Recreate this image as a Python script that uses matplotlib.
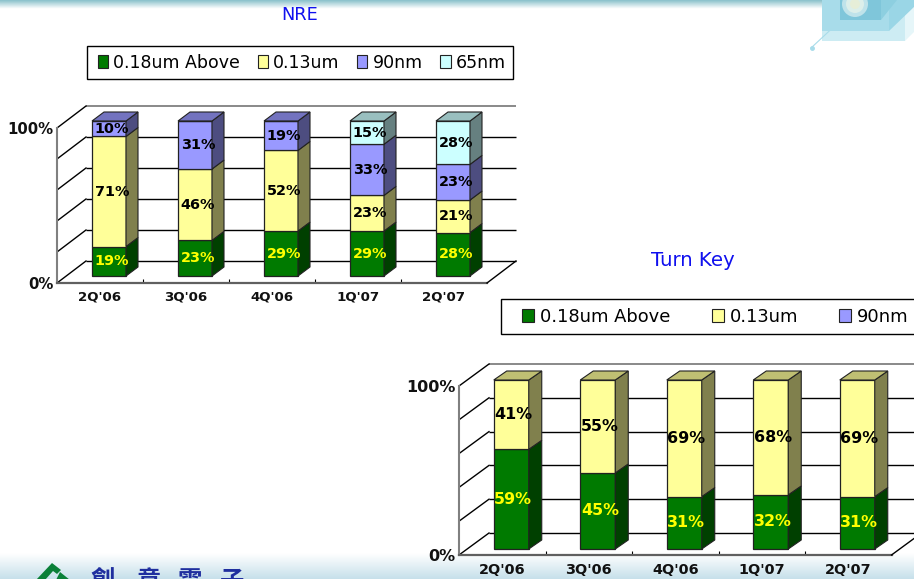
import numpy as np
import matplotlib
matplotlib.use("Agg")
import matplotlib.pyplot as plt
from matplotlib.patches import Polygon, Rectangle, Patch

W, H = 914, 579

categories = ["2Q'06", "3Q'06", "4Q'06", "1Q'07", "2Q'07"]
nre_above = [19, 23, 29, 29, 28]
nre_013 = [71, 46, 52, 23, 21]
nre_90 = [10, 31, 19, 33, 23]
nre_65 = [0, 0, 0, 15, 28]
tk_above = [59, 45, 31, 32, 31]
tk_013 = [41, 55, 69, 68, 69]

name_above, name_013, name_90, name_65 = "0.18um Above", "0.13um", "90nm", "65nm"
FRONT = {"above": "#007a00", "013": "#ffff99", "90": "#9999ff", "65": "#ccffff"}
SIDE = {"above": "#004000", "013": "#80804d", "90": "#4d4d80", "65": "#668080"}
TOP = {"above": "#005c00", "013": "#bfbf73", "90": "#7373bf", "65": "#99bfbf"}
TEXTC = {"above": "#ffff00", "013": "black", "90": "black", "65": "black"}


def axes_px(fig, x0, x1, ytop, ybot):
    return fig.add_axes([x0 / W, 1 - ybot / H, (x1 - x0) / W, (ybot - ytop) / H])


fig = plt.figure(figsize=(W / 100, H / 100), dpi=100, facecolor="white")

# page background
bg = fig.add_axes([0, 0, 1, 1], zorder=0)
bg.axis("off")
top_band = np.linspace(0, 1, 12)[:, None]
top_cols = np.array([0.55, 0.76, 0.80])[None, None, :] * (1 - top_band[..., None]) + top_band[..., None]
bg.imshow(top_cols, extent=(0, 828, 9, 0), aspect="auto", zorder=1)
bot_band = np.linspace(0, 1, 30)[:, None]
bot_cols = 1 - (1 - np.array([0.78, 0.88, 0.92])[None, None, :]) * bot_band[..., None]
bg.imshow(bot_cols, extent=(0, W, H, 553), aspect="auto", zorder=1)
bg.set_xlim(0, W)
bg.set_ylim(H, 0)

# corner cube decoration
bg.add_patch(Polygon([[822, 0], [905, 0], [905, 41], [822, 41]], fc="#cdecf3", ec="none", zorder=2))
bg.add_patch(Polygon([[905, 41], [914, 32], [914, 7], [905, 14]], fc="#e6f6f9", ec="none", zorder=2))
bg.add_patch(Polygon([[822, 0], [889, 0], [889, 31], [822, 31]], fc="#a8dcea", ec="none", zorder=3))
bg.add_patch(Polygon([[889, 31], [914, 7], [914, 0], [889, 0]], fc="#9ad6e6", ec="none", zorder=4))
bg.add_patch(Polygon([[881, 20], [897, 0], [881, 0]], fc="#8dcfe0", ec="none", zorder=4))
bg.add_patch(Polygon([[840, 0], [881, 0], [881, 20], [840, 20]], fc="#7fc6da", ec="none", zorder=4))
for r, c in zip([13, 9, 5], ["#bfe3ea", "#dcefea", "#e6eed8"]):
    bg.add_patch(plt.Circle((855, 4), r, fc=c, ec="none", zorder=5))
bg.plot([811, 840], [48, 21], color="#a8dcea", lw=0.8, zorder=3)
bg.plot([812], [48], "o", color="#a8dcea", ms=2.5, zorder=3)

# company logo, cut by the page edge as in the reference
bg.add_patch(Polygon([[52, 563], [36, 580], [45, 580], [53, 571], [57, 574], [61, 570]], fc="#0a8038", ec="none", zorder=3))
bg.add_patch(Polygon([[60, 572], [70, 580], [56, 580]], fc="#0a8038", ec="none", zorder=3))
for ch, xc in zip("創意電子", [103, 148, 190, 232]):
    bg.text(xc, 569, ch, family="Noto Sans CJK TC", fontsize=17.5, fontweight="bold",
            color="#1f2f9f", ha="center", va="top", zorder=4)

fig.text(300 / W, 1 - 15 / H, "NRE", color="#1010ee", fontsize=12.8, ha="center", va="center", zorder=5)
fig.text(692.5 / W, 1 - 261 / H, "Turn Key", color="#1010ee", fontsize=14.2, ha="center", va="center", zorder=5)


def chart(x0, step, ytop, ybot, depth, bar_plane, bar_width_px, side, series, lab_fs, tick_fs, lab_dx):
    """x0/step: front axis; ytop/ybot: 100%/0% on front wall; depth: wall depth (px);
    bar_plane: (dx, dy) shift of bars' front; side: bar depth (px)."""
    x1 = x0 + 5 * step
    ax = axes_px(fig, x0, x1, ytop, ybot)
    ax.set_zorder(2)
    ax.patch.set_alpha(0)
    ax.set_xlim(0, 5)
    ax.set_ylim(0, 100)
    for s in ax.spines.values():
        s.set_visible(False)
    kx, ky = 1 / step, 100 / (ybot - ytop)
    dx, dy = depth[0] * kx, depth[1] * ky
    levels = [0, 20, 40, 60, 80, 100]
    for v in levels:
        col = "#808080" if v == 100 else "black"
        ax.plot([dx, 5 + dx], [v + dy, v + dy], color=col, lw=1.3 if v == 100 else 1.0, clip_on=False, solid_capstyle="butt")
        ax.plot([0, dx], [v, v + dy], color="black", lw=1.0, clip_on=False)
    ax.plot([0, 0], [0, 100], color="#808080", lw=1.5, clip_on=False)
    ax.plot([0, 5], [0, 0], color="#606060", lw=1.6, clip_on=False)
    ax.plot([5, 5 + dx], [0, dy], color="black", lw=1.0, clip_on=False)
    ax.set_yticks([0, 100], ["0%", "100%"], fontweight="bold", fontsize=tick_fs + 1.1, color="#111111")
    ax.tick_params(axis="y", length=0, pad=2.5)
    ax.set_xticks(np.arange(5) + 0.5, categories, fontweight="bold", fontsize=tick_fs, color="#111111")
    ax.tick_params(axis="x", which="major", length=0, pad=5.5)
    ax.set_xticks(np.arange(1, 5), minor=True)
    ax.tick_params(axis="x", which="minor", length=3, direction="in", width=0.8)

    # bar plane
    bx = axes_px(fig, x0 + bar_plane[0], x1 + bar_plane[0], ytop - bar_plane[1], ybot - bar_plane[1])
    bx.set_zorder(3)
    bx.patch.set_alpha(0)
    bx.axis("off")
    bx.set_xlim(0, 5)
    bx.set_ylim(0, 100)
    w = bar_width_px * kx
    sx, sy = side[0] * kx, side[1] * 100 / (ybot - ytop)
    xs = np.arange(5) + 0.5
    bottoms = np.zeros(5)
    for key, vals in series:
        vals = np.array(vals, float)
        bx.bar(xs, vals, w, bottom=bottoms, color=FRONT[key], edgecolor="#222222", linewidth=0.9, zorder=3, clip_on=False)
        for x, b, v in zip(xs, bottoms, vals):
            if v == 0:
                continue
            r = x + w / 2
            bx.add_patch(Polygon([[r, b], [r + sx, b + sy], [r + sx, b + v + sy], [r, b + v]],
                                 fc=SIDE[key], ec="#222222", lw=0.8, zorder=3, clip_on=False))
            if abs(b + v - 100) < 0.01:
                l = x - w / 2
                bx.add_patch(Polygon([[l, 100], [l + sx, 100 + sy], [r + sx, 100 + sy], [r, 100]],
                                     fc=TOP[key], ec="#222222", lw=0.8, zorder=3, clip_on=False))
        bottoms = bottoms + vals
    bottoms = np.zeros(5)
    for key, vals in series:
        vals = np.array(vals, float)
        for x, b, v in zip(xs, bottoms, vals):
            if v:
                bx.text(x + lab_dx * kx, b + v / 2, f"{v:.0f}%", color=TEXTC[key], fontweight="bold",
                        fontsize=lab_fs, ha="center", va="center", zorder=6, clip_on=False)
        bottoms = bottoms + vals
    return ax


chart(57, 86, 128, 283, (29, 22), (9, 7), 34, (12, 9),
      [("above", nre_above), ("013", nre_013), ("90", nre_90), ("65", nre_65)], 10.4, 9.6, 3)
chart(459, 86.5, 386, 555, (30, 22), (9, 6), 35, (13, 9),
      [("above", tk_above), ("013", tk_013)], 11.4, 10.4, 2)


def legend(names, keys, box, first_x, fs, colspace, hl, tp):
    bg.add_patch(Rectangle((box[0], box[1]), box[2] - box[0], box[3] - box[1], fc="white", ec="black", lw=1.0, zorder=6))
    handles = [Patch(fc=FRONT[k], ec="#222222", lw=0.8) for k in keys]
    ycen = (box[1] + box[3]) / 2
    lg = fig.legend(handles, names, loc="center left", bbox_to_anchor=(first_x / W, 1 - ycen / H), ncol=len(names),
                    fontsize=fs, frameon=False, handlelength=hl, handleheight=0.7, handletextpad=tp,
                    columnspacing=colspace, borderpad=0, borderaxespad=0)
    lg.set_zorder(6)
    return lg


legend([name_above, name_013, name_90, name_65], ["above", "013", "90", "65"], (87, 46, 513, 79), 98, 12.5, 1.03, 0.58, 0.29)
legend([name_above, name_013, name_90], ["above", "013", "90"], (501, 299, 925, 334), 522, 12.9, 2.3, 0.67, 0.33)

fig.savefig("out.png", dpi=100)
